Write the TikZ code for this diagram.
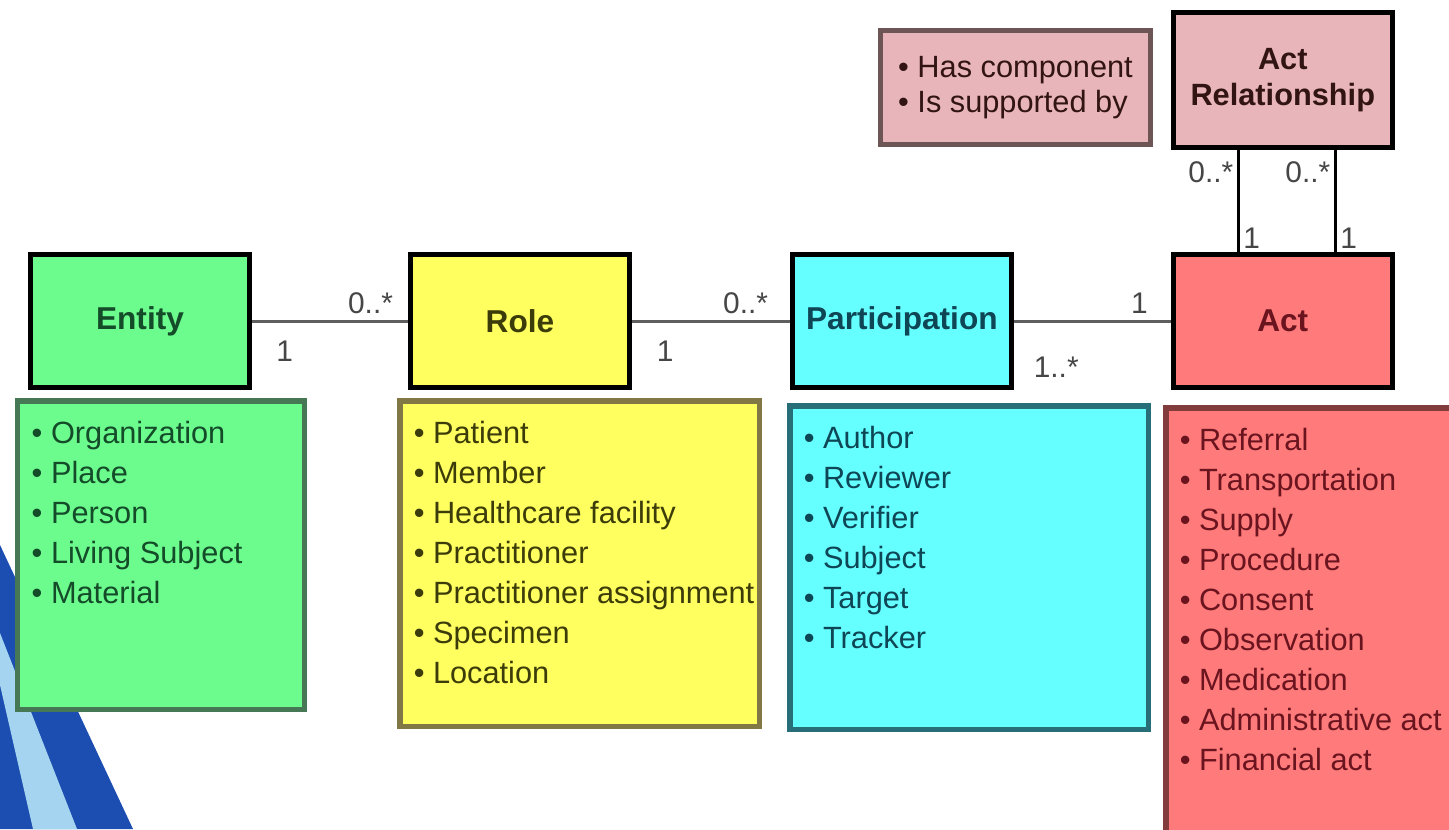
\documentclass[tikz,border=0pt]{standalone}
\usepackage{fontspec}
\setmainfont{Liberation Sans}
\usetikzlibrary{positioning}

\definecolor{entityfill}{RGB}{108,252,142}
\definecolor{entityline}{RGB}{70,120,85}
\definecolor{entitytext}{RGB}{20,75,40}
\definecolor{rolefill}{RGB}{255,255,95}
\definecolor{roleline}{RGB}{130,120,70}
\definecolor{roletext}{RGB}{60,60,10}
\definecolor{partfill}{RGB}{102,255,255}
\definecolor{partline}{RGB}{40,110,120}
\definecolor{parttext}{RGB}{15,70,85}
\definecolor{actfill}{RGB}{255,122,122}
\definecolor{actline}{RGB}{130,60,60}
\definecolor{acttext}{RGB}{105,20,30}
\definecolor{relfill}{RGB}{232,182,186}
\definecolor{relline}{RGB}{110,85,85}
\definecolor{reltext}{RGB}{50,20,20}
\definecolor{linkgray}{RGB}{95,95,95}
\definecolor{multgray}{RGB}{70,70,70}
\definecolor{swooshdark}{RGB}{28,78,178}
\definecolor{swooshlight}{RGB}{165,212,240}

\tikzstyle{classnode} = [
	rectangle,
	minimum width=4.38cm,
	minimum height=2.66cm,
	text centered,
	draw=black,
	line width=0.1cm,
	font=\fontsize{18}{21}\selectfont\bfseries
]
\tikzstyle{listnode} = [
	rectangle,
	anchor=north west,
	line width=0.11cm,
	inner xsep=0.28cm,
	inner ysep=0.4cm,
	font=\fontsize{17.5}{22.8}\selectfont
]
\tikzstyle{link} = [line width=0.06cm, draw=linkgray]
\tikzstyle{mult} = [font=\fontsize{17}{20}\selectfont, text=multgray, inner sep=2pt]

\newcommand{\listtext}[3]{\parbox[c][#2][t]{#1}{\raggedright #3}}
\newcommand{\bul}[1]{\mbox{\textbullet\ #1}}

\begin{document}
\begin{tikzpicture}[x=0.02cm, y=-0.02cm]
		\useasboundingbox (0,0) rectangle (1449,829);
		\fill[white] (0,0) rectangle (1449,829);

		% swoosh in the corner
		\fill[swooshdark] (0,545) -- (133,829) -- (0,829) -- cycle;
		\fill[swooshlight] (0,633) -- (77,829) -- (33,829) -- (0,685) -- cycle;

		\node (entity) [classnode, fill=entityfill, text=entitytext] at (140,321) {Entity};
		\node (role) [classnode, fill=rolefill, text=roletext, right=3.12cm of entity] {Role};
		\node (participation) [classnode, fill=partfill, text=parttext, right=3.16cm of role] {Participation};
		\node (act) [classnode, fill=actfill, text=acttext, right=3.14cm of participation] {Act};
		\node (actrel) [classnode, fill=relfill, text=reltext, align=center, minimum height=2.7cm, above=2.04cm of act, font=\fontsize{17.5}{20}\selectfont\bfseries] {Act\\Relationship};
		\node (relkinds) [rectangle, draw=relline, line width=0.1cm, fill=relfill, text=reltext, minimum width=5.4cm, minimum height=2.28cm, align=left, font=\fontsize{17.5}{20}\selectfont] at (1015.5,87.5) {\bul{Has component}\\\bul{Is supported by}};

		\node (entitylist) [listnode, draw=entityline, fill=entityfill, text=entitytext] at (15,398)
			{\listtext{5.18cm}{5.38cm}{\bul{Organization}\\\bul{Place}\\\bul{Person}\\\bul{Living Subject}\\\bul{Material}}};
		\node (rolelist) [listnode, draw=roleline, fill=rolefill, text=roletext] at (397,398)
			{\listtext{6.64cm}{5.72cm}{\bul{Patient}\\\bul{Member}\\\bul{Healthcare facility}\\\bul{Practitioner}\\\bul{Practitioner assignment}\\\bul{Specimen}\\\bul{Location}}};
		\node (partlist) [listnode, draw=partline, fill=partfill, text=parttext] at (787,403)
			{\listtext{6.62cm}{5.68cm}{\bul{Author}\\\bul{Reviewer}\\\bul{Verifier}\\\bul{Subject}\\\bul{Target}\\\bul{Tracker}}};
		\node (actlist) [listnode, draw=actline, fill=actfill, text=acttext] at (1163,405)
			{\listtext{5.32cm}{7.84cm}{\bul{Referral}\\\bul{Transportation}\\\bul{Supply}\\\bul{Procedure}\\\bul{Consent}\\\bul{Observation}\\\bul{Medication}\\\bul{Administrative act}\\\bul{Financial act}}};

		\draw [link] (entity) -- node[mult, pos=0.76, above, yshift=0.05cm] {0..*} node[mult, pos=0.21, below, yshift=-0.3cm] {1} (role);
		\draw [link] (role) -- node[mult, pos=0.72, above, yshift=0.05cm] {0..*} node[mult, pos=0.21, below, yshift=-0.3cm] {1} (participation);
		\draw [link] (participation) -- node[mult, pos=0.80, above, yshift=0.05cm] {1} node[mult, pos=0.27, below, yshift=-0.62cm] {1..*} (act);

		\draw [line width=0.06cm] ([xshift=-0.89cm]actrel.south) -- node[mult, pos=0.22, left] {0..*} node[mult, pos=0.86, right] {1} ([xshift=-0.89cm]act.north);
		\draw [line width=0.06cm] ([xshift=1.05cm]actrel.south) -- node[mult, pos=0.22, left] {0..*} node[mult, pos=0.86, right] {1} ([xshift=1.05cm]act.north);
	\end{tikzpicture}
\end{document}
